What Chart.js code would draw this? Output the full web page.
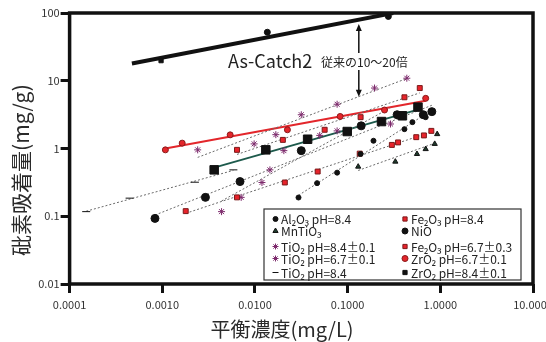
<!DOCTYPE html>
<html lang="ja">
<head>
<meta charset="utf-8">
<title>砒素吸着量</title>
<script src="https://cdn.jsdelivr.net/npm/chart.js@4.4.1/dist/chart.umd.min.js"></script>
<style>
  html, body { margin: 0; padding: 0; background: #fff; }
</style>
</head>
<body>
<canvas id="chart" width="546" height="342"></canvas>
<script>
// Values (log-log: x = mg/L, y = mg/g)
const xTickValues = [0.0001, 0.001, 0.01, 0.1, 1, 10]
const xTickLabels = ['0.0001', '0.0010', '0.0100', '0.1000', '1.0000', '10.0000']
const yTickValues = [0.01, 0.1, 1, 10, 100]
const yTickLabels = ['0.01', '0.1', '1', '10', '100']

const asCatchX = [0.00097, 0.0136, 0.275]
const asCatchY = [19.8, 52, 89]
const asCatchRange = [0.00047, 0.31]

const al2o3X = [0.0295, 0.0468, 0.077, 0.138, 0.19, 0.41, 0.50, 0.695]
const al2o3Y = [0.189, 0.308, 0.44, 0.83, 1.3, 1.93, 2.45, 2.9]

const fe84X = [0.00179, 0.0064, 0.021, 0.0475, 0.135, 0.30, 0.35, 0.55, 0.665, 0.80]
const fe84Y = [0.119, 0.19, 0.315, 0.457, 0.84, 1.13, 1.23, 1.47, 1.56, 1.82]

const mnX = [0.13, 0.327, 0.56, 0.695, 0.87, 0.925]
const mnY = [0.54, 0.64, 0.83, 0.98, 1.17, 1.63]

const nioX = [0.000834, 0.00292, 0.0069, 0.0316, 0.14, 0.342, 0.655, 0.81]
const nioY = [0.093, 0.19, 0.325, 0.93, 2.16, 3.15, 3.15, 3.5]

const ti84pmX = [0.00241, 0.0098, 0.0168, 0.0316, 0.077, 0.195, 0.435]
const ti84pmY = [0.955, 1.17, 1.6, 3.15, 4.5, 7.8, 10.9]

const fe67X = [0.0064, 0.02, 0.0565, 0.138, 0.41, 0.60]
const fe67Y = [0.955, 1.34, 1.89, 2.9, 5.7, 7.8]

const ti67X = [0.00436, 0.0071, 0.0119, 0.0145, 0.0205, 0.05, 0.077, 0.29]
const ti67Y = [0.117, 0.19, 0.315, 0.484, 0.93, 1.56, 1.82, 2.3]

const zr67X = [0.00108, 0.00164, 0.0054, 0.0224, 0.083, 0.25, 0.695]
const zr67Y = [0.955, 1.2, 1.59, 1.89, 2.97, 3.7, 5.5]

const ti84X = [0.000151, 0.000444, 0.00225, 0.00585]
const ti84Y = [0.117, 0.185, 0.318, 0.484]

const zr84X = [0.00363, 0.0131, 0.037, 0.099, 0.232, 0.39, 0.574]
const zr84Y = [0.484, 0.955, 1.37, 1.78, 2.5, 3.04, 4.08]

// arrow between As-Catch2 and the conventional materials
const arrowX = 0.132
const arrowTop = 69
const arrowBottom = 5.8

const FONT = '"Noto Sans CJK JP", "Noto Sans", sans-serif'

function pts(xs, ys) {
  return xs.map((x, i) => ({ x: x, y: ys[i] }))
}

// least squares in log-log space, drawn between two x values
function fit(xs, ys, range) {
  const lx = xs.map(Math.log10), ly = ys.map(Math.log10)
  const n = lx.length
  const mx = lx.reduce((a, b) => a + b, 0) / n
  const my = ly.reduce((a, b) => a + b, 0) / n
  let sxy = 0, sxx = 0
  for (let i = 0; i < n; i++) {
    sxy += (lx[i] - mx) * (ly[i] - my)
    sxx += (lx[i] - mx) * (lx[i] - mx)
  }
  const k = sxy / sxx
  const ends = range || [Math.min(...xs), Math.max(...xs)]
  return ends.map(x => ({ x: x, y: Math.pow(10, my + k * (Math.log10(x) - mx)) }))
}

function trend(xs, ys, color, width, dash, range) {
  return {
    data: fit(xs, ys, range),
    showLine: true,
    borderColor: color,
    borderWidth: width,
    borderDash: dash,
    pointRadius: 0,
    order: 2
  }
}

function series(label, xs, ys, style, radius, fill, border) {
  return {
    label: label,
    data: pts(xs, ys),
    pointStyle: style,
    pointRadius: radius,
    pointBackgroundColor: fill,
    pointBorderColor: border,
    pointBorderWidth: 1,
    order: 1
  }
}

const dotted = [2, 2]
const gray = '#6a6a6a'
const datasets = [
  trend(asCatchX, asCatchY, '#111', 4, [], asCatchRange),
  trend(al2o3X, al2o3Y, gray, 1, dotted),
  trend(fe84X, fe84Y, gray, 1, dotted),
  trend(mnX, mnY, gray, 1, dotted),
  trend(nioX, nioY, gray, 1, dotted),
  trend(ti84pmX, ti84pmY, gray, 1, dotted),
  trend(fe67X, fe67Y, gray, 1, dotted),
  trend(ti67X, ti67Y, gray, 1, dotted),
  trend(ti84X, ti84Y, gray, 1, dotted),
  trend(zr84X, zr84Y, '#1d5a4c', 2, []),
  trend(zr67X, zr67Y, '#e3262b', 2, []),
  series('As-Catch2', asCatchX, asCatchY, ['rect', 'circle', 'circle'], 3, '#111', '#111'),
  series('Al₂O₃ pH=8.4', al2o3X, al2o3Y, 'circle', 2.5, '#111', '#111'),
  series('Fe₂O₃ pH=8.4', fe84X, fe84Y, 'rect', 3.5, '#e8232b', '#7a1a1a'),
  series('MnTiO₃', mnX, mnY, 'triangle', 3, '#1e3b2c', '#111'),
  series('NiO', nioX, nioY, 'circle', 4, '#111', '#111'),
  series('TiO₂ pH=8.4±0.1', ti84pmX, ti84pmY, 'star', 3.5, '#7d2a6c', '#7d2a6c'),
  series('Fe₂O₃ pH=6.7±0.3', fe67X, fe67Y, 'rect', 3.5, '#e8232b', '#7a1a1a'),
  series('TiO₂ pH=6.7±0.1', ti67X, ti67Y, 'star', 3.5, '#7d2a6c', '#7d2a6c'),
  series('ZrO₂ pH=6.7±0.1', zr67X, zr67Y, 'circle', 3, '#e3262b', '#8a1a1a'),
  series('TiO₂ pH=8.4', ti84X, ti84Y, 'line', 4, '#111', '#111'),
  series('ZrO₂ pH=8.4±0.1', zr84X, zr84Y, 'rect', 6, '#111', '#111')
]

// legend layout: two columns in a framed box
const legendColumns = [
  ['Al₂O₃ pH=8.4', 'MnTiO₃', 'TiO₂ pH=8.4±0.1', 'TiO₂ pH=6.7±0.1', 'TiO₂ pH=8.4'],
  ['Fe₂O₃ pH=8.4', 'NiO', 'Fe₂O₃ pH=6.7±0.3', 'ZrO₂ pH=6.7±0.1', 'ZrO₂ pH=8.4±0.1']
]

const overlay = {
  id: 'overlay',
  afterDraw(chart) {
    const ctx = chart.ctx
    const a = chart.chartArea
    const x = chart.scales.x, y = chart.scales.y
    ctx.save()

    // plot frame
    ctx.strokeStyle = '#111'
    ctx.lineWidth = 3.5
    ctx.strokeRect(a.left, a.top, a.right - a.left, a.bottom - a.top)

    // double arrow
    const ax = x.getPixelForValue(arrowX)
    const y0 = y.getPixelForValue(arrowTop)
    const y1 = y.getPixelForValue(arrowBottom)
    ctx.lineWidth = 1.5
    ctx.beginPath()
    ctx.moveTo(ax, y0 + 4)
    ctx.lineTo(ax, y1 - 4)
    ctx.stroke()
    ctx.fillStyle = '#111'
    ctx.beginPath()
    ctx.moveTo(ax, y0); ctx.lineTo(ax - 3, y0 + 7); ctx.lineTo(ax + 3, y0 + 7); ctx.closePath()
    ctx.moveTo(ax, y1); ctx.lineTo(ax - 3, y1 - 7); ctx.lineTo(ax + 3, y1 - 7); ctx.closePath()
    ctx.fill()

    // As-Catch2 caption
    ctx.textBaseline = 'middle'
    ctx.textAlign = 'left'
    ctx.font = '18px ' + FONT
    ctx.fillStyle = '#fff'
    ctx.fillRect(318, 53, 94, 17)
    ctx.fillStyle = '#222'
    ctx.fillText('As-Catch2', 228, 61)
    ctx.font = '12px ' + FONT
    ctx.fillText('従来の10～20倍', 321, 62)

    // legend
    const box = { left: 264, top: 209, right: 521, bottom: 280 }
    ctx.fillStyle = '#fff'
    ctx.fillRect(box.left, box.top, box.right - box.left, box.bottom - box.top)
    ctx.strokeStyle = '#333'
    ctx.lineWidth = 1.2
    ctx.strokeRect(box.left, box.top, box.right - box.left, box.bottom - box.top)
    const rows = [219, 231, 246.5, 258.5, 272.5]
    const cols = [{ mark: 275.5, text: 281 }, { mark: 405, text: 411 }]
    ctx.font = '12px ' + FONT
    legendColumns.forEach((names, c) => {
      names.forEach((name, r) => {
        const ds = chart.data.datasets.find(d => d.label === name)
        ctx.fillStyle = ds.pointBackgroundColor
        ctx.strokeStyle = ds.pointBorderColor
        ctx.lineWidth = 1
        Chart.helpers.drawPoint(ctx, {
          pointStyle: ds.pointStyle,
          radius: Math.min(ds.pointRadius, 3),
          borderWidth: 1,
          rotation: 0
        }, cols[c].mark, rows[r])
        ctx.fillStyle = '#222'
        ctx.fillText(name, cols[c].text, rows[r] + 0.5)
      })
    })

    // axis titles
    ctx.fillStyle = '#2a2a2a'
    ctx.font = '20px ' + FONT
    ctx.textAlign = 'center'
    ctx.fillText('平衡濃度(mg/L)', 282, 329)
    ctx.translate(21, 170)
    ctx.rotate(-Math.PI / 2)
    ctx.font = '21px ' + FONT
    ctx.fillText('砒素吸着量(mg/g)', 0, 0)

    ctx.restore()
  }
}

new Chart(document.getElementById('chart'), {
  type: 'scatter',
  data: { datasets: datasets },
  options: {
    responsive: false,
    animation: false,
    devicePixelRatio: 1,
    layout: { padding: { top: 13, right: 13, left: 0, bottom: 0 } },
    plugins: {
      legend: { display: false },
      tooltip: { enabled: false }
    },
    scales: {
      x: {
        type: 'logarithmic',
        min: 0.0001,
        max: 10,
        afterBuildTicks: s => { s.ticks = xTickValues.map(v => ({ value: v })) },
        afterFit: s => { s.height = 58; s.paddingLeft = 0; s.paddingRight = 0 },
        ticks: {
          callback: (v, i) => xTickLabels[i],
          autoSkip: false,
          maxRotation: 0,
          padding: 5,
          color: '#333',
          font: { family: FONT, size: 11 }
        },
        grid: { drawOnChartArea: false, color: '#111', tickLength: 9, tickWidth: 3 },
        border: { display: false }
      },
      y: {
        type: 'logarithmic',
        min: 0.01,
        max: 100,
        afterBuildTicks: s => { s.ticks = yTickValues.map(v => ({ value: v })) },
        afterFit: s => { s.width = 69.6; s.paddingTop = 0; s.paddingBottom = 0 },
        ticks: {
          callback: (v, i) => yTickLabels[i],
          autoSkip: false,
          padding: 1,
          color: '#333',
          font: { family: FONT, size: 11 }
        },
        grid: { drawOnChartArea: false, color: '#111', tickLength: 9, tickWidth: 3 },
        border: { display: false }
      }
    }
  },
  plugins: [overlay]
})
</script>
</body>
</html>
